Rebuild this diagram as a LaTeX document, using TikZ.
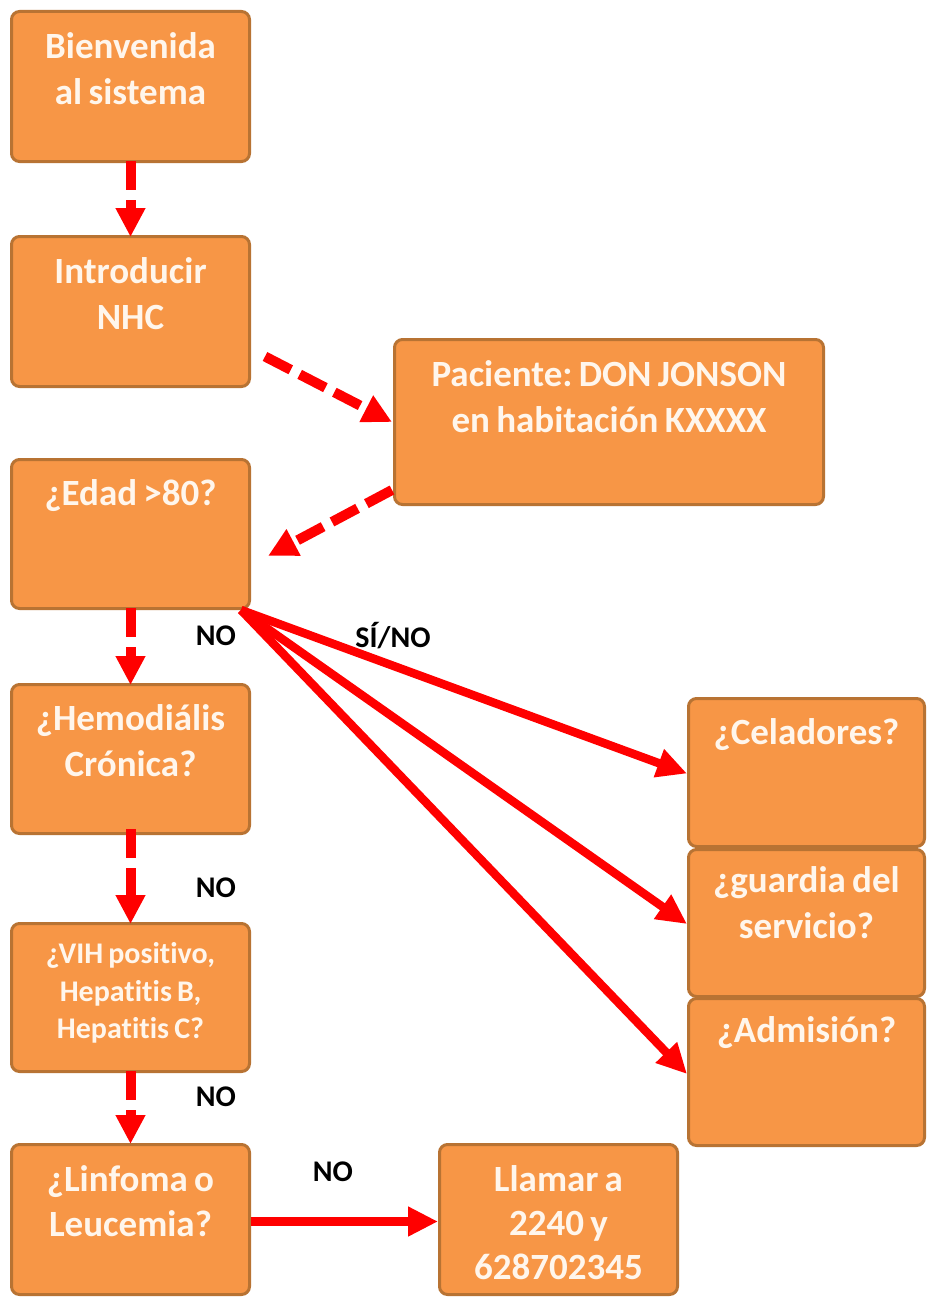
\documentclass[tikz,border=0pt]{standalone}
\usepackage{fontspec}
\setmainfont{Carlito}[Ligatures=CommonOff]
\usetikzlibrary{arrows.meta}

\definecolor{boxfill}{HTML}{F79646}
\definecolor{boxline}{HTML}{B87333}
\definecolor{boxtext}{HTML}{FFF6EC}
\definecolor{flowred}{HTML}{FF0000}

% box contents: width, height, first-baseline drop, font size, line skip, text
\newcommand{\boxbody}[6]{%
  \parbox[c][#2pt][t]{#1pt}{\centering\fontsize{#4}{#5}\selectfont\bfseries
    \frenchspacing\spaceskip=0.17em plus 0.05em\relax
    \rule{0pt}{#3pt}#6\par}}

\tikzset{
  stepbox/.style={draw=boxline, line width=3pt, fill=boxfill, rounded corners=8pt,
    inner sep=0pt, anchor=north west, text=boxtext},
  dashflow/.style={draw=flowred, line width=10pt, dash pattern=on 29pt off 10pt,
    -{Triangle[length=29pt,width=28pt]}},
  solidflow/.style={draw=flowred, line width=8.5pt,
    -{Triangle[length=30pt,width=28pt]}},
  answer/.style={font=\fontsize{30}{32}\selectfont\bfseries, text=black, inner sep=0pt}
}

\begin{document}
\begin{tikzpicture}[x=1pt, y=-1pt]
  \useasboundingbox (0,0) rectangle (928,1298);

  % left column
  \node[stepbox] (welcome) at (10,10)
    {\boxbody{238}{150}{47}{37}{46}{Bienvenida\\al sistema}};
  \node[stepbox] (nhc) at (10,235)
    {\boxbody{238}{150}{47}{37}{46}{Introducir\\NHC}};
  \node[stepbox] (patient) at (393,338)
    {\boxbody{429}{165}{47}{37}{46}{Paciente: DON JONSON\\en habitación KXXXX}};
  \node[stepbox] (age) at (10,458)
    {\boxbody{238}{149}{46}{37}{46}{¿Edad >80?}};
  \node[stepbox] (dialysis) at (10,683)
    {\boxbody{238}{149}{46}{37}{46}{¿Hemodiális\\Crónica?}};
  \node[stepbox] (virus) at (10,922)
    {\boxbody{238}{148}{40}{30}{37.5}{¿VIH positivo,\\Hepatitis B,\\Hepatitis C?}};
  \node[stepbox] (lymph) at (10,1143)
    {\boxbody{238}{150}{47}{37}{45}{¿Linfoma o\\Leucemia?}};
  \node[stepbox] (call) at (438,1143)
    {\boxbody{238}{150}{47}{37}{44}{Llamar a\\2240 y\\628702345}};

  % right column
  \node[stepbox] (porters) at (687,697)
    {\boxbody{236}{148}{46}{37}{46}{¿Celadores?}};
  \node[stepbox] (duty) at (687,848)
    {\boxbody{236}{147}{43}{37}{46}{¿guardia del\\servicio?}};
  \node[stepbox] (admission) at (687,997)
    {\boxbody{236}{147}{44}{37}{46}{¿Admisión?}};

  % dashed connectors
  \draw[dashflow] ([yshift=2]welcome.south) -- ([yshift=-2]nhc.north);
  \draw[dashflow] ([shift={(14,45)}]nhc.east) -- ([xshift=-1]patient.west);
  \draw[dashflow] ([shift={(-1,-16)}]patient.south west) -- ([shift={(17,22)}]age.east);
  \draw[dashflow] ([yshift=2]age.south) -- ([yshift=-2]dialysis.north);
  \draw[dashflow] ([yshift=6]dialysis.south) -- ([yshift=-2]virus.north);
  \draw[dashflow] ([yshift=2]virus.south) -- ([yshift=-1]lymph.north);

  % solid connectors
  \coordinate (fan) at ([xshift=-10]age.south east);
  \draw[solidflow] (fan) -- ([yshift=-1]porters.west);
  \draw[solidflow] (fan) -- ([yshift=-1]duty.west);
  \draw[solidflow] (fan) -- ([yshift=-2]admission.west);
  \draw[solidflow] ([yshift=-2]lymph.east) -- ([yshift=-2]call.west);

  % answers
  \node[answer] (no1) at (216,636) {NO};
  \node[answer] (sino) at (393,636) {SÍ/NO};
  \node[answer] (no2) at (216,888) {NO};
  \node[answer] (no3) at (216,1097) {NO};
  \node[answer] (no4) at (333,1172) {NO};
\end{tikzpicture}
\end{document}
